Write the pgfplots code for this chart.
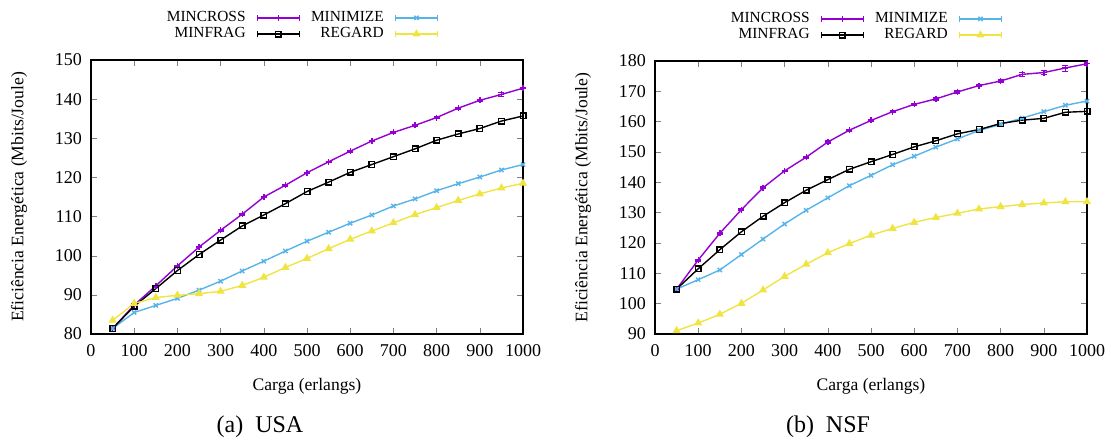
\documentclass[border=0pt]{standalone}
\usepackage{pgfplots}
\pgfplotsset{compat=1.18}
\usepackage{pgfplotstable}
\usepackage{fontspec}
\setmainfont{Liberation Serif}
\definecolor{cpurple}{RGB}{148,0,211}
\definecolor{cblue}{RGB}{86,180,233}
\definecolor{cyellow}{RGB}{240,228,66}

% USA
\pgfplotstableread{
x y e
50 81.4 0.2
100 87.4 0.2
150 92.3 0.2
200 97.4 0.2
250 102.2 0.2
300 106.5 0.2
350 110.6 0.2
400 115.0 0.2
450 118.0 0.2
500 121.2 0.2
550 124.0 0.2
600 126.7 0.2
650 129.3 0.2
700 131.5 0.2
750 133.3 0.2
800 135.3 0.2
850 137.7 0.3
900 139.7 0.3
950 141.2 0.5
1000 142.8 0.3
}\usacross
\pgfplotstableread{
x y
50 81.4
100 87.1
150 91.6
200 96.2
250 100.3
300 104.0
350 107.6
400 110.4
450 113.3
500 116.4
550 118.8
600 121.3
650 123.3
700 125.3
750 127.3
800 129.5
850 131.1
900 132.5
950 134.4
1000 135.7
}\usafrag
\pgfplotstableread{
x y
50 81.4
100 85.5
150 87.3
200 89.1
250 91.2
300 93.5
350 96.1
400 98.6
450 101.2
500 103.7
550 106.0
600 108.3
650 110.4
700 112.7
750 114.5
800 116.6
850 118.4
900 120.1
950 121.9
1000 123.3
}\usamin
\pgfplotstableread{
x y
50 83.5
100 87.8
150 89.3
200 89.9
250 90.3
300 90.9
350 92.4
400 94.5
450 97.0
500 99.3
550 101.8
600 104.2
650 106.3
700 108.4
750 110.5
800 112.3
850 114.1
900 115.8
950 117.3
1000 118.5
}\usareg

% NSF
\pgfplotstableread{
x y e
50 104.8 0.2
100 114.4 0.3
150 123.2 0.3
200 131.0 0.3
250 138.2 0.3
300 143.8 0.3
350 148.3 0.3
400 153.3 0.4
450 157.2 0.4
500 160.4 0.4
550 163.3 0.4
600 165.7 0.3
650 167.5 0.4
700 169.8 0.5
750 171.9 0.4
800 173.4 0.5
850 175.6 0.7
900 176.2 0.7
950 177.7 1.0
1000 179.1 0.4
}\nsfcross
\pgfplotstableread{
x y
50 104.8
100 111.5
150 117.8
200 123.7
250 128.8
300 133.3
350 137.4
400 140.9
450 144.3
500 146.8
550 149.2
600 151.7
650 153.7
700 156.0
750 157.4
800 159.4
850 160.5
900 161.1
950 163.1
1000 163.4
}\nsffrag
\pgfplotstableread{
x y
50 104.8
100 107.9
150 111.1
200 116.2
250 121.3
300 126.3
350 130.8
400 134.9
450 138.9
500 142.3
550 145.8
600 148.6
650 151.6
700 154.3
750 157.1
800 159.1
850 161.2
900 163.3
950 165.4
1000 166.8
}\nsfmin
\pgfplotstableread{
x y
50 91.1
100 93.6
150 96.5
200 100.1
250 104.5
300 109.0
350 113.0
400 116.8
450 119.8
500 122.6
550 124.8
600 126.8
650 128.4
700 129.8
750 131.2
800 132.0
850 132.7
900 133.2
950 133.6
1000 133.6
}\nsfreg

\pgfplotsset{
  common/.style={
    scale only axis,
    width=216pt,
    xmin=0, xmax=1000,
    xtick={0,100,...,1000},
    ytick distance=10,
    tick align=inside,
    major tick length=3pt,
    axis line style={line width=0.8pt},
    font=\fontsize{8.8}{10}\selectfont,
    tick label style={font=\fontsize{9}{10}\selectfont},
    xticklabel style={yshift=-1.5pt},
    yticklabel style={xshift=-1pt},
    /pgf/number format/assume math mode=true,
    /pgf/number format/1000 sep={},
    xlabel={Carga (erlangs)},
    ylabel={Eficiência Energética (Mbits/Joule)},
    xlabel style={yshift=-4pt},
    ylabel style={yshift=7pt},
    every axis plot/.append style={line width=0.7pt},
    legend columns=2,
    legend plot pos=right,
    legend cell align=right,
    legend style={draw=none, fill=none, at={(0.485,1.04)}, anchor=south,
      font=\fontsize{7.7}{9}\selectfont, row sep=-2.5pt,
      /tikz/column sep=3.5pt},
    legend image code/.code={%
      \draw[mark repeat=2,mark phase=2,##1] plot coordinates {(0pt,0pt) (10.5pt,0pt) (21pt,0pt)};
      \draw[##1,mark=none,solid] (0pt,-1.6pt)--(0pt,1.6pt) (21pt,-1.6pt)--(21pt,1.6pt);
    },
  },
  scross/.style={cpurple, mark=+, mark size=1.5pt},
  sfrag/.style={black, mark=square, mark size=1.4pt},
  smin/.style={cblue, mark=x, mark size=1.5pt},
  sreg/.style={cyellow, mark=triangle*, mark size=1.7pt, mark options={fill=cyellow}},
}

\begin{document}
\begin{tikzpicture}
\useasboundingbox (0,0) rectangle (555.5pt,219.5pt);
\begin{axis}[common, at={(45.5pt,52.5pt)}, anchor=south west,
  height=137pt, ymin=80, ymax=150]
\addplot[scross, error bars/.cd, y dir=both, y explicit, error bar style={line width=0.6pt}] table[x=x,y=y,y error=e]{\usacross};
\addlegendentry{MINCROSS}
\addplot[smin] table[x=x,y=y]{\usamin};
\addlegendentry{MINIMIZE}
\addplot[sfrag] table[x=x,y=y]{\usafrag};
\addlegendentry{MINFRAG}
\addplot[sreg] table[x=x,y=y]{\usareg};
\addlegendentry{REGARD}
\end{axis}
\begin{axis}[common, at={(327.5pt,52.5pt)}, anchor=south west,
  height=136.5pt, ymin=90, ymax=180]
\addplot[scross, error bars/.cd, y dir=both, y explicit, error bar style={line width=0.6pt}] table[x=x,y=y,y error=e]{\nsfcross};
\addlegendentry{MINCROSS}
\addplot[smin] table[x=x,y=y]{\nsfmin};
\addlegendentry{MINIMIZE}
\addplot[sfrag] table[x=x,y=y]{\nsffrag};
\addlegendentry{MINFRAG}
\addplot[sreg] table[x=x,y=y]{\nsfreg};
\addlegendentry{REGARD}
\end{axis}
\node[font=\fontsize{12}{14}\selectfont] at (130pt,6pt) {(a)~ USA};
\node[font=\fontsize{12}{14}\selectfont] at (414pt,6pt) {(b)~ NSF};
\end{tikzpicture}
\end{document}
